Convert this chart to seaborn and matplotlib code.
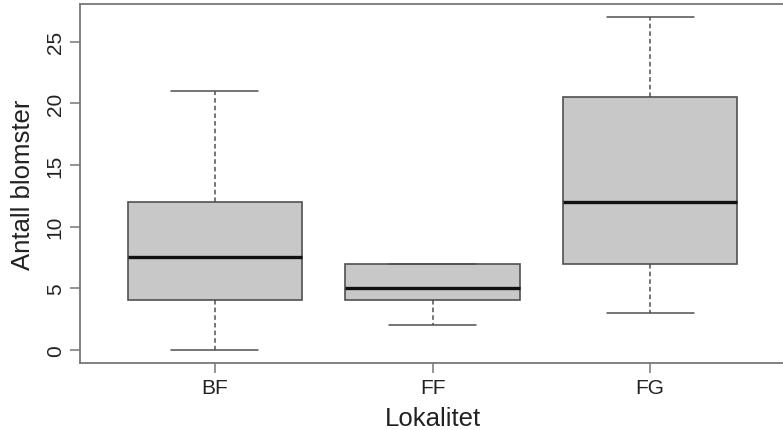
import matplotlib
matplotlib.use("Agg")
import matplotlib.pyplot as plt
import pandas as pd
import seaborn as sb

sb.set_style("ticks")
plt.rcParams['font.family'] = ['Liberation Sans', 'DejaVu Sans']

# five-number summaries: min, Q1, median, Q3, max
sites = ["BF", "FF", "FG"]
bf_vals = [0, 4, 7.5, 12, 21]
ff_vals = [2, 4, 5, 7, 7]
fg_vals = [3, 7, 12, 20.5, 27]
y_ticks = [0, 5, 10, 15, 20, 25]

# with five points the linear quartiles fall exactly on Q1 / Q3
df = pd.DataFrame({
    "Lokalitet": [s for s, v in zip(sites, [bf_vals, ff_vals, fg_vals]) for _ in v],
    "Antall blomster": bf_vals + ff_vals + fg_vals,
})

fig = plt.figure(figsize=(7.83, 4.31), dpi=100)
ax = fig.add_axes([80 / 783, 67 / 431, 705 / 783, 359 / 431])

edge = "#505050"
sb.boxplot(data=df, x="Lokalitet", y="Antall blomster", order=sites, ax=ax,
           width=0.8, whis=10, color="#c8c8c8", fill=True, linecolor=edge,
           boxprops=dict(facecolor="#c8c8c8", edgecolor=edge, linewidth=1.2),
           medianprops=dict(color="#111111", linewidth=2.4),
           whiskerprops=dict(color=edge, linestyle=(0, (3, 2)), linewidth=1.1),
           capprops=dict(color=edge, linewidth=1.1),
           capwidths=0.4, showfliers=False)

ax.set_xlim(-0.62, 2.62)
ax.set_ylim(-1.08, 28.08)
ax.set_yticks(y_ticks)
ax.set_yticklabels([str(t) for t in y_ticks], rotation=90, va="center")
for sp in ax.spines.values():
    sp.set_visible(True)
    sp.set_color("#777777")
    sp.set_linewidth(1.3)
ax.tick_params(axis="both", direction="out", length=7, width=1.1,
               color="#777777", labelsize=15, labelcolor="#222222", pad=4,
               left=True, bottom=True)
ax.set_xlabel("Lokalitet", fontsize=18.5, color="#222222", labelpad=6)
ax.set_ylabel("Antall blomster", fontsize=18.5, color="#222222", labelpad=8)

fig.savefig("out.png", dpi=100)
